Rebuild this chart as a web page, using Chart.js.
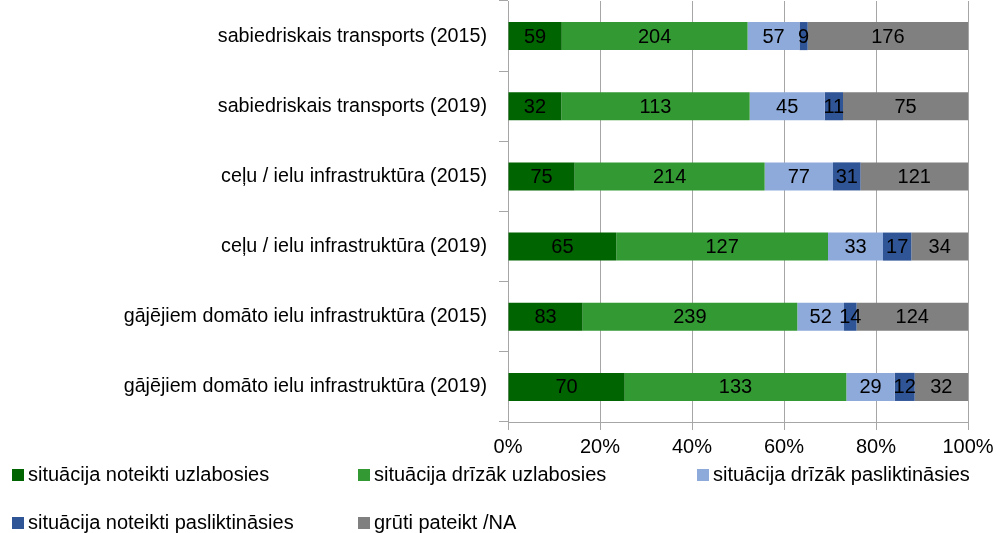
<!DOCTYPE html>
<html>
<head>
<meta charset="utf-8">
<script src="https://cdn.jsdelivr.net/npm/chart.js@4"></script>
<style>
  html, body { margin: 0; padding: 0; background: #fff; }
  #wrap { position: relative; width: 1000px; height: 533px; overflow: hidden; }
  #c { position: absolute; left: 0; top: 0; }
  .lg { position: absolute; font-family: "Liberation Sans", Arial, sans-serif; font-size: 20px; color: #000; white-space: nowrap; line-height: 20px; }
  .lg i { display: inline-block; width: 12px; height: 12px; margin-right: 4px; vertical-align: 0px; }
</style>
</head>
<body>
<div id="wrap">
  <canvas id="c" width="1000" height="533"></canvas>
  <div id="legend"></div>
</div>
<script>
const categories = [
  "sabiedriskais transports (2015)",
  "sabiedriskais transports (2019)",
  "ceļu / ielu infrastruktūra (2015)",
  "ceļu / ielu infrastruktūra (2019)",
  "gājējiem domāto ielu infrastruktūra (2015)",
  "gājējiem domāto ielu infrastruktūra (2019)"
];
const seriesNames = [
  "situācija noteikti uzlabosies",
  "situācija drīzāk uzlabosies",
  "situācija drīzāk pasliktināsies",
  "situācija noteikti pasliktināsies",
  "grūti pateikt /NA"
];
const definitelyBetter = [59, 32, 75, 65, 83, 70];
const ratherBetter     = [204, 113, 214, 127, 239, 133];
const ratherWorse      = [57, 45, 77, 33, 52, 29];
const definitelyWorse  = [9, 11, 31, 17, 14, 12];
const hardToSay        = [176, 75, 121, 34, 124, 32];
const xTickValues = [0, 20, 40, 60, 80, 100];
const xTickLabels = ["0%", "20%", "40%", "60%", "80%", "100%"];

const colors = ["#006400", "#339933", "#8eaadb", "#2f5597", "#808080"];
const rawSeries = [definitelyBetter, ratherBetter, ratherWorse, definitelyWorse, hardToSay];
const totals = categories.map((_, i) => rawSeries.reduce((s, arr) => s + arr[i], 0));

const datasets = rawSeries.map((arr, k) => ({
  label: seriesNames[k],
  data: arr.map((v, i) => v / totals[i] * 100),
  raw: arr,
  backgroundColor: colors[k],
  borderWidth: 0,
  barPercentage: 0.4,
  categoryPercentage: 1.0
}));

const labelPlugin = {
  id: 'segLabels',
  afterDatasetsDraw(chart) {
    const ctx = chart.ctx;
    ctx.save();
    ctx.font = '20px "Liberation Sans", Arial, sans-serif';
    ctx.fillStyle = '#000';
    ctx.textAlign = 'center';
    ctx.textBaseline = 'middle';
    chart.data.datasets.forEach((ds, di) => {
      const meta = chart.getDatasetMeta(di);
      meta.data.forEach((el, i) => {
        const p = el.getProps(['x', 'y', 'base'], true);
        const cx = (p.x + p.base) / 2;
        ctx.fillText(String(ds.raw[i]), cx, p.y + 1);
      });
    });
    ctx.restore();
  }
};

Chart.defaults.font.family = '"Liberation Sans", Arial, sans-serif';
Chart.defaults.color = '#000';

new Chart(document.getElementById('c'), {
  type: 'bar',
  data: { labels: categories, datasets },
  options: {
    indexAxis: 'y',
    responsive: false,
    animation: false,
    devicePixelRatio: 1,
    layout: { padding: { top: 1, right: 32, left: 0, bottom: 0 } },
    plugins: { legend: { display: false }, tooltip: { enabled: false }, title: { display: false } },
    scales: {
      x: {
        stacked: true,
        min: 0, max: 100,
        afterBuildTicks(scale) { scale.ticks = xTickValues.map(v => ({ value: v })); },
        afterFit(scale) { scale.height = 111; scale.paddingLeft = 0; scale.paddingRight = 0; },
        ticks: {
          callback: (v) => xTickLabels[xTickValues.indexOf(v)],
          font: { size: 20 },
          color: '#000',
          padding: 5,
          maxRotation: 0
        },
        grid: { color: '#a6a6a6', lineWidth: 1, tickLength: 8, drawOnChartArea: true },
        border: { display: true, color: '#a6a6a6' }
      },
      y: {
        stacked: true,
        afterFit(scale) { scale.width = 508; scale.paddingTop = 0; scale.paddingBottom = 0; },
        ticks: { font: { size: 19.7 }, color: '#000', padding: 12 },
        grid: { offset: true, drawOnChartArea: false, tickLength: 9, color: '#a6a6a6' },
        border: { display: true, color: '#a6a6a6' }
      }
    }
  },
  plugins: [labelPlugin]
});

// HTML legend built from the series arrays
const legendPos = [[12, 464], [358, 464], [697, 464], [12, 512], [358, 512]];
const lg = document.getElementById('legend');
seriesNames.forEach((n, k) => {
  const d = document.createElement('div');
  d.className = 'lg';
  d.style.left = legendPos[k][0] + 'px';
  d.style.top = legendPos[k][1] + 'px';
  d.innerHTML = '<i style="background:' + colors[k] + '"></i>' + n;
  lg.appendChild(d);
});
</script>
</body>
</html>
